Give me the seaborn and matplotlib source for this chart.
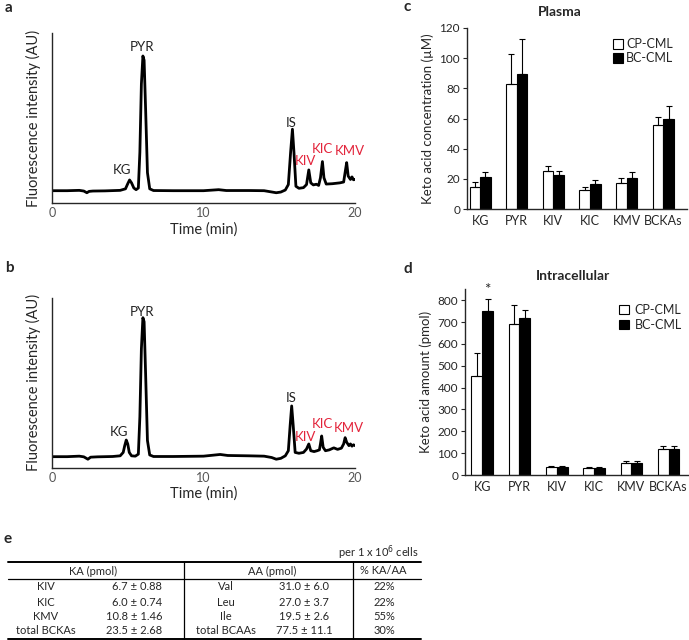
import pandas as pd
import seaborn as sns
import matplotlib.pyplot as plt
from matplotlib.lines import Line2D

# ---- chromatogram traces (time in min, fluorescence 0-1 AU) ----
time_a = [0, 1.0, 1.8, 2.1, 2.3, 2.45, 2.7, 3.5, 4.5, 4.85, 5.0, 5.12, 5.25, 5.4, 5.55,
          5.7, 5.8, 5.9, 6.0, 6.08, 6.18, 6.3, 6.45, 6.7, 8.0, 10.0, 11.0, 11.5, 13.0,
          14.0, 14.4, 14.8, 15.1, 15.4, 15.6, 15.75, 15.87, 15.97, 16.1, 16.3, 16.6,
          16.8, 16.95, 17.08, 17.25, 17.45, 17.6, 17.72, 17.85, 17.95, 18.1, 18.5, 19.0,
          19.25, 19.38, 19.45, 19.55, 19.7, 19.8, 19.9, 20.0]
signal_a = [0.074, 0.074, 0.076, 0.072, 0.062, 0.07, 0.072, 0.073, 0.076, 0.085, 0.115,
            0.137, 0.12, 0.09, 0.08, 0.09, 0.3, 0.7, 0.865, 0.84, 0.55, 0.18, 0.085,
            0.075, 0.074, 0.074, 0.08, 0.075, 0.075, 0.074, 0.068, 0.062, 0.066, 0.078,
            0.11, 0.3, 0.435, 0.3, 0.1, 0.088, 0.092, 0.11, 0.196, 0.12, 0.108, 0.112,
            0.105, 0.15, 0.245, 0.15, 0.113, 0.115, 0.12, 0.125, 0.2, 0.239, 0.16, 0.14,
            0.155, 0.138, 0.14]

time_b = [0, 1.0, 1.8, 2.1, 2.37, 2.55, 3.0, 4.0, 4.5, 4.7, 4.8, 4.9, 5.0, 5.1, 5.25,
          5.5, 5.7, 5.8, 5.9, 6.0, 6.08, 6.18, 6.3, 6.45, 6.7, 8.0, 10.0, 11.1, 11.6,
          13.0, 14.0, 14.5, 14.8, 15.1, 15.4, 15.6, 15.72, 15.82, 15.92, 16.05, 16.3,
          16.6, 16.8, 16.95, 17.08, 17.3, 17.5, 17.65, 17.72, 17.8, 17.9, 18.05, 18.3,
          18.6, 18.85, 19.1, 19.25, 19.35, 19.45, 19.6, 19.7, 19.8, 19.9, 20.0]
signal_b = [0.065, 0.065, 0.068, 0.064, 0.05, 0.062, 0.064, 0.066, 0.07, 0.09, 0.13,
            0.163, 0.14, 0.09, 0.07, 0.068, 0.08, 0.3, 0.7, 0.884, 0.86, 0.55, 0.16,
            0.075, 0.066, 0.066, 0.068, 0.078, 0.072, 0.07, 0.068, 0.06, 0.05, 0.055,
            0.07, 0.1, 0.25, 0.364, 0.25, 0.09, 0.085, 0.09, 0.11, 0.14, 0.1, 0.095,
            0.1, 0.105, 0.14, 0.187, 0.12, 0.1, 0.105, 0.117, 0.108, 0.115, 0.14, 0.177,
            0.15, 0.13, 0.14, 0.127, 0.135, 0.13]

peak_names = ['KG', 'PYR', 'IS', 'KIV', 'KIC', 'KMV']
peak_colors = ['#222222', '#222222', '#222222', '#e3243b', '#e3243b', '#e3243b']
label_pos_a = [(4.6, 0.196), (5.93, 0.92), (15.8, 0.47), (16.75, 0.25), (17.87, 0.32), (19.65, 0.31)]
label_pos_b = [(4.4, 0.21), (5.93, 0.92), (15.8, 0.41), (16.7, 0.18), (17.87, 0.26), (19.6, 0.235)]

# ---- bar charts ----
acids = ['KG', 'PYR', 'KIV', 'KIC', 'KMV', 'BCKAs']
groups = ['CP-CML', 'BC-CML']

plasma_cp = [14.6, 82.8, 25.2, 12.8, 17.4, 55.6]
plasma_cp_err = [3.1, 19.8, 3.1, 1.5, 3.1, 5.1]
plasma_bc = [21.0, 89.6, 22.3, 16.8, 20.3, 60.0]
plasma_bc_err = [3.5, 23.0, 3.1, 2.6, 4.2, 8.4]

intra_cp = [453, 690, 36, 32, 55, 120]
intra_cp_err = [107, 87, 4, 3, 10, 13]
intra_bc = [750, 718, 37, 33, 53, 118]
intra_bc_err = [58, 36, 4, 3, 12, 14]

# ---- table e ----
ka_names = ['KIV', 'KIC', 'KMV', 'total BCKAs']
ka_values = ['6.7 ± 0.88', '6.0 ± 0.74', '10.8 ± 1.46', '23.5 ± 2.68']
aa_names = ['Val', 'Leu', 'Ile', 'total BCAAs']
aa_values = ['31.0 ± 6.0', '27.0 ± 3.7', '19.5 ± 2.6', '77.5 ± 11.1']
ka_aa_pct = ['22%', '22%', '55%', '30%']

sns.set_style("ticks")
plt.rcParams['font.family'] = ['Lato', 'DejaVu Sans']
plt.rcParams['axes.linewidth'] = 1.0

W, H = 689, 640
fig = plt.figure(figsize=(W / 100, H / 100), dpi=100)


def px_axes(left, top, right, bottom):
    return fig.add_axes([left / W, 1 - bottom / H, (right - left) / W, (bottom - top) / H])


def chromatogram(ax, t, s, label_pos):
    sns.lineplot(x=t, y=s, ax=ax, color='black', linewidth=2.0, sort=False, estimator=None)
    for name, col, (x, y) in zip(peak_names, peak_colors, label_pos):
        ax.text(x, y, name, color=col, fontsize=9.5, ha='center', va='center')
    ax.set_xlim(0, 20)
    ax.set_ylim(0, 1)
    ax.set_xticks([0, 10, 20])
    ax.set_yticks([])
    ax.tick_params(axis='x', length=0, pad=3, labelsize=9, labelcolor='#555555')
    ax.set_xlabel('Time (min)', fontsize=10.5, labelpad=2)
    ax.set_ylabel('Fluorescence intensity (AU)', fontsize=10.5, labelpad=8)
    sns.despine(ax=ax)


def keto_bars(ax, cp, cp_err, bc, bc_err, ylim, yticks, ylabel):
    df = pd.DataFrame({
        'acid': acids * 2,
        'group': [groups[0]] * len(acids) + [groups[1]] * len(acids),
        'value': cp + bc,
    })
    sns.barplot(data=df, x='acid', y='value', hue='group', order=acids, hue_order=groups,
                palette={'CP-CML': 'white', 'BC-CML': 'black'}, edgecolor='black',
                linewidth=0.8, width=0.58, errorbar=None, ax=ax)
    for cont, err in zip(ax.containers, [cp_err, bc_err]):
        xs = [b.get_x() + b.get_width() / 2 for b in cont]
        ys = [b.get_height() for b in cont]
        ax.errorbar(xs, ys, yerr=[[0] * len(err), err], fmt='none', ecolor='black',
                    elinewidth=0.8, capsize=2.5, capthick=0.8)
    ax.set_ylim(*ylim)
    ax.set_yticks(yticks)
    ax.set_xlabel('')
    ax.set_ylabel(ylabel, fontsize=9.5, labelpad=4)
    ax.tick_params(axis='x', length=0, pad=4, labelsize=9)
    ax.tick_params(axis='y', length=3, width=0.8, pad=2, labelsize=8.5)
    sns.despine(ax=ax)
    handles, labels = ax.get_legend_handles_labels()
    ax.get_legend().remove()
    return handles, labels


# a
ax_a = px_axes(52, 33, 355, 203.3)
chromatogram(ax_a, time_a, signal_a, label_pos_a)
# b
ax_b = px_axes(52, 298, 355, 467.7)
chromatogram(ax_b, time_b, signal_b, label_pos_b)

# c
ax_c = px_axes(467, 28, 687, 209)
h, l = keto_bars(ax_c, plasma_cp, plasma_cp_err, plasma_bc, plasma_bc_err,
                 (0, 120), range(0, 121, 20), 'Keto acid concentration (µM)')
ax_c.set_xlim(-0.36, 5.65)
ax_c.legend(h, l, loc='upper left', bbox_to_anchor=(0.64, 0.97), frameon=False,
            fontsize=9, handlelength=0.8, handleheight=0.8, handletextpad=0.25,
            labelspacing=0.15, borderaxespad=0)
fig.text(560 / W, 1 - 12 / H, 'Plasma', fontsize=10, fontweight='bold', ha='center', va='center')

# d
ax_d = px_axes(465, 289.4, 688, 475)
h, l = keto_bars(ax_d, intra_cp, intra_cp_err, intra_bc, intra_bc_err,
                 (0, 850), range(0, 801, 100), 'Keto acid amount (pmol)')
ax_d.set_xlim(-0.46, 5.52)
ax_d.legend(h, l, loc='upper left', bbox_to_anchor=(0.67, 0.95), frameon=False,
            fontsize=9, handlelength=0.8, handleheight=0.8, handletextpad=0.4,
            labelspacing=0.25, borderaxespad=0)
kg_bc = ax_d.containers[1][0]
ax_d.text(kg_bc.get_x() + kg_bc.get_width() / 2, intra_bc[0] + intra_bc_err[0] + 5, '*',
          ha='center', va='bottom', fontsize=11, clip_on=False)
fig.text(573 / W, 1 - 276 / H, 'Intracellular', fontsize=10, fontweight='bold',
         ha='center', va='center')

# panel letters
for letter, x, y in [('a', 5, 8), ('b', 5, 268), ('c', 403, 7), ('d', 404, 269), ('e', 4, 539)]:
    fig.text(x / W, 1 - y / H, letter, fontsize=11, fontweight='bold', ha='left', va='center')

# e table, drawn on a pixel-coordinate overlay
tab = fig.add_axes([0, 0, 1, 1])
tab.set_xlim(0, W)
tab.set_ylim(H, 0)
tab.axis('off')
fs = 8
tab.text(419, 553, 'per 1 x 10$^6$ cells', fontsize=fs, ha='right', va='center')
tab.add_line(Line2D([8, 421], [562, 562], color='black', lw=1.4))
tab.add_line(Line2D([8, 421], [579, 579], color='black', lw=0.9))
tab.add_line(Line2D([8, 421], [639, 639], color='black', lw=1.4))
tab.add_line(Line2D([184, 184], [562, 639], color='black', lw=0.9))
tab.add_line(Line2D([353, 353], [562, 639], color='black', lw=0.9))
tab.text(93, 571, 'KA (pmol)', fontsize=fs, ha='center', va='center')
tab.text(272, 571, 'AA (pmol)', fontsize=fs, ha='center', va='center')
tab.text(383, 571, '% KA/AA', fontsize=fs, ha='center', va='center')
for i, row_y in enumerate([587, 602, 616, 631]):
    tab.text(46, row_y, ka_names[i], fontsize=fs, ha='center', va='center')
    tab.text(162, row_y, ka_values[i], fontsize=fs, ha='right', va='center')
    tab.text(226, row_y, aa_names[i], fontsize=fs, ha='center', va='center')
    tab.text(304, row_y, aa_values[i], fontsize=fs, ha='center', va='center')
    tab.text(395, row_y, ka_aa_pct[i], fontsize=fs, ha='right', va='center')

fig.savefig('out.png', dpi=100, facecolor='white')
